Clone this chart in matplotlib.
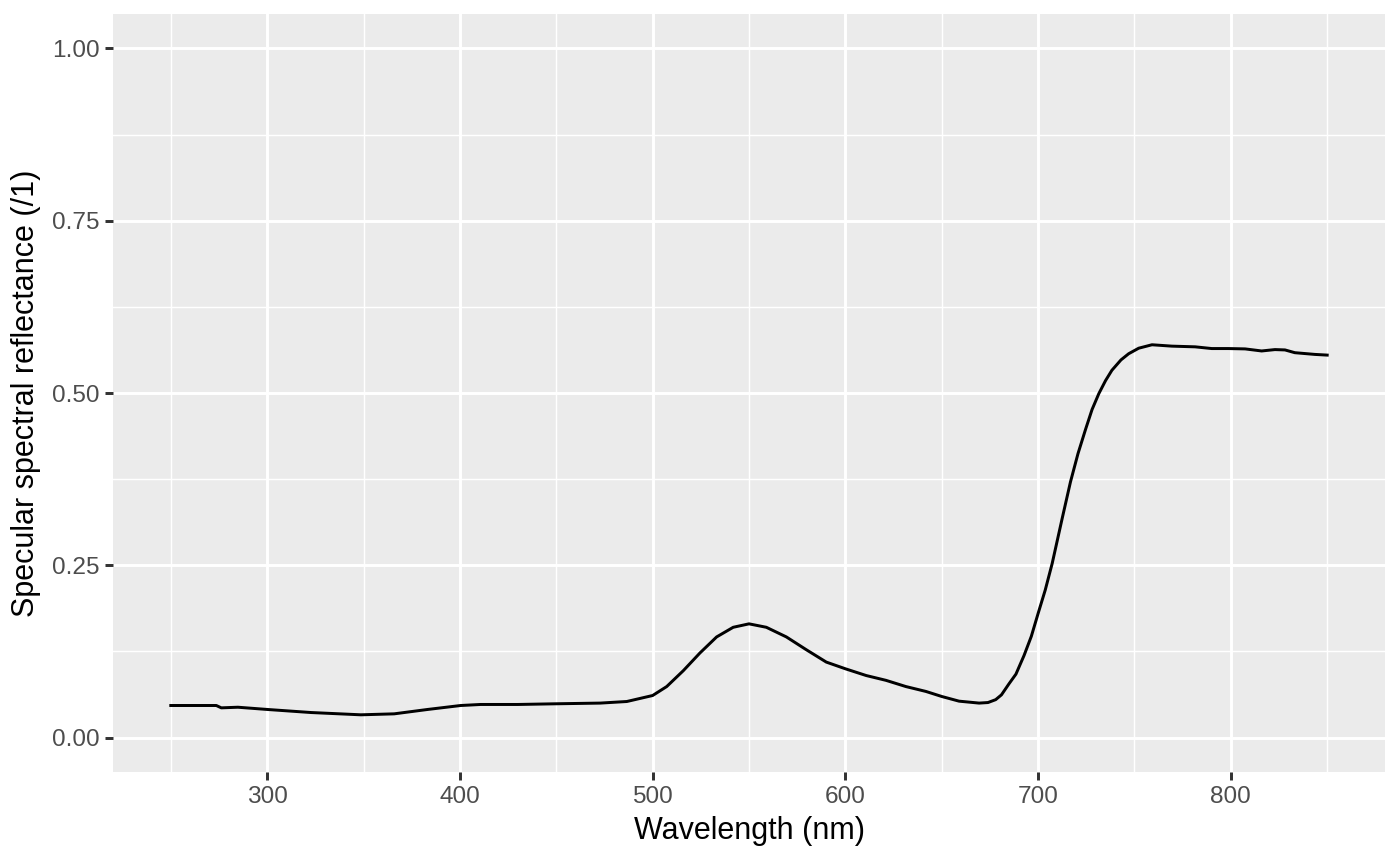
import numpy as np
import matplotlib
matplotlib.use("Agg")
import matplotlib.pyplot as plt

plt.rcParams['font.family'] = ['Liberation Sans', 'DejaVu Sans']

# Valores (longitud de onda en nm, reflectancia /1)
longitud_onda = [250, 273.6, 276.2, 284.8, 300.3, 322.8, 348.6, 365.9, 383.1, 400.4,
                 410.7, 430, 450, 472.8, 486.6, 500, 507.3, 515.9, 524.5, 533.2,
                 541.8, 550, 559.0, 569.4, 579.7, 590.1, 600, 610.8, 621.1, 631.4,
                 641.8, 650, 659.0, 669.4, 674, 678.0, 681, 684.9, 688.5, 692.7,
                 696.5, 700, 703.7, 707.3, 712.5, 716.8, 720.7, 724.6, 728, 731.5,
                 735, 738.3, 743, 747, 752.2, 759.1, 769.4, 781.5, 790.1, 798.7,
                 807.4, 816, 822.9, 828.1, 833.2, 843.6, 850]
reflectancia = [0.0465, 0.0465, 0.0431, 0.044, 0.0407, 0.0363, 0.033, 0.0344, 0.0407,
                0.0465, 0.048, 0.048, 0.049, 0.050, 0.0523, 0.061, 0.074, 0.097,
                0.1226, 0.146, 0.160, 0.165, 0.160, 0.146, 0.1275, 0.1095, 0.0998,
                0.090, 0.083, 0.074, 0.0669, 0.0596, 0.0528, 0.050, 0.0508, 0.055,
                0.062, 0.078, 0.092, 0.119, 0.147, 0.180, 0.214, 0.2525, 0.318, 0.371,
                0.412, 0.447, 0.476, 0.499, 0.518, 0.533, 0.548, 0.557, 0.565, 0.570,
                0.568, 0.567, 0.5645, 0.5645, 0.564, 0.561, 0.563, 0.5625, 0.5585,
                0.556, 0.555]

fig = plt.figure(figsize=(7, 4.33), dpi=200)
ax = fig.add_axes([113 / 1400, 1 - 772 / 866, (1385 - 113) / 1400, (772 - 14) / 866])

ax.set_facecolor('#EBEBEB')
for s in ax.spines.values():
    s.set_visible(False)

ax.plot(longitud_onda, reflectancia, color='black', lw=1.07, solid_joinstyle='round', zorder=3)

ax.set_xlim(220, 880)
ax.set_ylim(-0.05, 1.05)
ax.set_xticks([300, 400, 500, 600, 700, 800])
ax.set_xticks([250, 350, 450, 550, 650, 750, 850], minor=True)
ax.set_yticks([0, 0.25, 0.5, 0.75, 1.0])
ax.set_yticks([0.125, 0.375, 0.625, 0.875], minor=True)
ax.set_yticklabels(['0.00', '0.25', '0.50', '0.75', '1.00'])

ax.grid(which='major', color='white', lw=1.07)
ax.grid(which='minor', color='white', lw=0.53)
ax.set_axisbelow(True)

ax.tick_params(which='major', length=2.75, width=1.07, color='#333333',
               labelsize=8.8, labelcolor='#4D4D4D', pad=2.2)
ax.tick_params(which='minor', length=0)

ax.set_xlabel('Wavelength (nm)', fontsize=11, color='black', labelpad=3)
ax.set_ylabel('Specular spectral reflectance (/1)', fontsize=11, color='black', labelpad=4)

fig.savefig('out.png', dpi=200, facecolor='white')
